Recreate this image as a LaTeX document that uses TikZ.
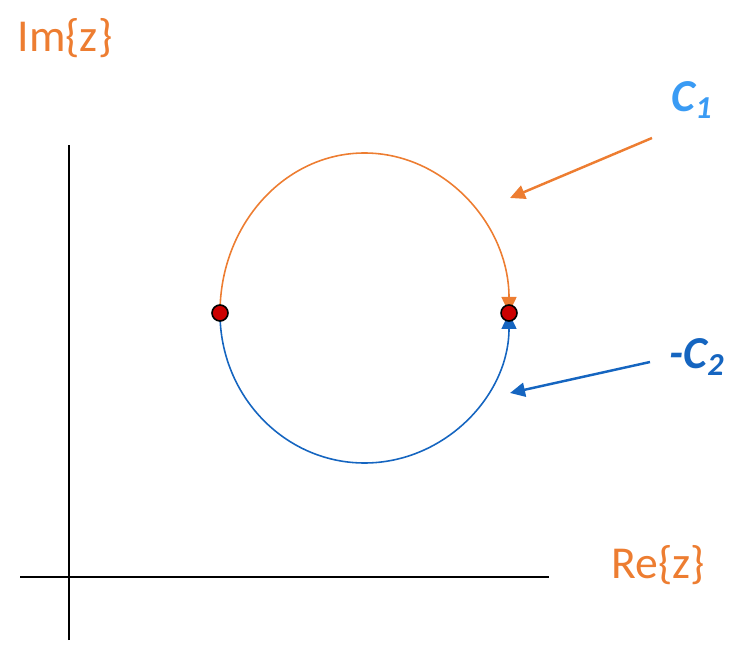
\documentclass[tikz,border=0pt]{standalone}
\usepackage{fontspec}
\setmainfont{Carlito}
\usepackage{xcolor}
\usetikzlibrary{arrows.meta,positioning,calc}
\definecolor{arcorange}{RGB}{237,125,49}
\definecolor{arcblue}{RGB}{21,101,192}
\definecolor{lightlab}{RGB}{58,155,244}
\definecolor{dotred}{RGB}{204,0,0}

\begin{document}
\begin{tikzpicture}[>=latex,
   ax/.style={line width=1.1pt,black},
   dt/.style={circle,draw=black,fill=dotred,line width=0.9pt,minimum size=3.2mm,inner sep=0pt},
   axlab/.style={text=arcorange,font=\fontsize{26}{28}\selectfont},
   clab/.style={font=\fontsize{26}{28}\selectfont\bfseries\itshape},
   ptr/.style={line width=1.4pt,-{Triangle[length=3mm,width=2.8mm]}}]
  \useasboundingbox (0,0) rectangle (14.84,12.9);
  % axes
  \coordinate (ytop) at (1.38,10.0);
  \coordinate (ybot) at (1.38,0.1);
  \coordinate (xl) at (0.4,1.36);
  \coordinate (xr) at (10.98,1.36);
  \draw[ax] (ybot)--(ytop);
  \draw[ax] (xl)--(xr);
  \node[axlab] (im) at (1.3,12.14) {Im\{z\}};
  \node[axlab] (re) at (13.16,1.6) {Re\{z\}};
  % contour
  \coordinate (pl) at (4.4,6.64);
  \coordinate (pr) at (10.18,6.64);
  \draw[arcorange,line width=0.9pt,-{Triangle[length=3.2mm,width=3mm]}]
    (pl) arc[start angle=180,end angle=0,x radius=2.89cm,y radius=3.2cm];
  \draw[arcblue,line width=0.9pt,-{Triangle[length=3.2mm,width=3mm]}]
    (pl) arc[start angle=180,end angle=360,x radius=2.89cm,y radius=3.0cm];
  \node[dt] (d1) at (pl) {};
  \node[dt] (d2) at (pr) {};
  % labels
  \node[clab,text=lightlab] (c1) at (13.84,10.9) {C\textsubscript{1}};
  \node[clab,text=arcblue] (c2) at (13.94,5.76) {-C\textsubscript{2}};
  \coordinate (s1) at (13.04,10.14);
  \coordinate (s2) at (13.0,5.66);
  \coordinate (t1) at (10.2,8.94);
  \coordinate (t2) at (10.2,5.04);
  \draw[ptr,arcorange] (s1)--(t1);
  \draw[ptr,arcblue] (s2)--(t2);
\end{tikzpicture}
\end{document}
